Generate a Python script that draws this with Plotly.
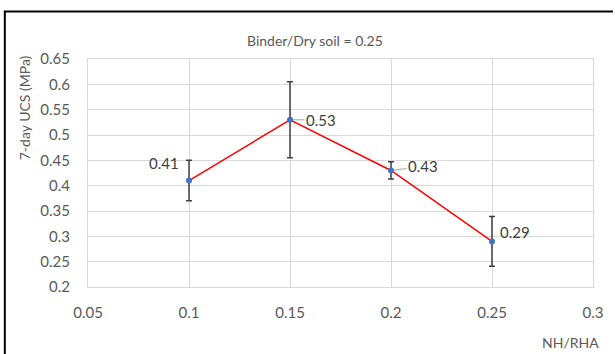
import plotly.graph_objects as go

# Data
nh_rha = [0.10, 0.15, 0.20, 0.25]
ucs_7day = [0.41, 0.53, 0.43, 0.29]
ucs_err = [0.04, 0.075, 0.017, 0.049]
value_labels = ["0.41", "0.53", "0.43", "0.29"]
x_ticks = [0.05, 0.1, 0.15, 0.2, 0.25, 0.3]
x_tick_labels = ["0.05", "0.1", "0.15", "0.2", "0.25", "0.3"]
y_ticks = [0.2, 0.25, 0.3, 0.35, 0.4, 0.45, 0.5, 0.55, 0.6, 0.65]
y_tick_labels = ["0.2", "0.25", "0.3", "0.35", "0.4", "0.45", "0.5", "0.55", "0.6", "0.65"]

W, H = 615, 354
ML, MR, MT, MB = 88, 20, 59, 67
PW, PH = W - ML - MR, H - MT - MB

def px(x):
    return (x - ML) / PW

def py(y):
    return (H - MB - y) / PH

FONT = "Lato"
grid = "#d9d9d9"

fig = go.Figure()
fig.add_trace(go.Scatter(
    x=nh_rha, y=ucs_7day,
    mode="lines+markers",
    line=dict(color="#ff0000", width=1.5),
    marker=dict(color="#4472c4", size=6),
    error_y=dict(type="data", array=ucs_err, visible=True,
                 color="#404040", thickness=1.5, width=3),
    showlegend=False,
    hoverinfo="x+y",
))

# data labels: (ax, ay, arrow)
label_offsets = [(-25, -18, False), (31, 0, True), (32, -4, True), (23, -9, False)]
for xv, yv, txt, (ax, ay, arr) in zip(nh_rha, ucs_7day, value_labels, label_offsets):
    if arr:
        fig.add_annotation(x=xv, y=yv, xref="x", yref="y", text=txt,
                           showarrow=True, arrowhead=0, arrowwidth=1,
                           arrowcolor="#a6a6a6", ax=ax, ay=ay, standoff=3,
                           font=dict(family=FONT, size=15, color="#404040"))
    else:
        fig.add_annotation(x=xv, y=yv, xref="x", yref="y", text=txt,
                           showarrow=False, xshift=ax, yshift=-ay,
                           font=dict(family=FONT, size=15, color="#404040"))

# title
fig.add_annotation(x=px(316), y=py(40), xref="paper", yref="paper",
                   xanchor="center", yanchor="middle",
                   text="Binder/Dry soil = 0.25", showarrow=False,
                   font=dict(family=FONT, size=14, color="#595959"))
# y-axis title
fig.add_annotation(x=px(24), y=py(108), xref="paper", yref="paper",
                   xanchor="center", yanchor="middle",
                   text="7-day UCS (MPa)", showarrow=False, textangle=-90,
                   font=dict(family=FONT, size=14, color="#595959"))
# x-axis title
fig.add_annotation(x=px(572), y=py(342), xref="paper", yref="paper",
                   xanchor="center", yanchor="middle",
                   text="NH/RHA", showarrow=False,
                   font=dict(family=FONT, size=14, color="#595959"))

# outer frame: only left and top edges visible in the image
fig.add_shape(type="line", xref="paper", yref="paper",
              x0=px(4.5), y0=py(11.5), x1=px(4.5), y1=py(354),
              line=dict(color="black", width=2), layer="above")
fig.add_shape(type="line", xref="paper", yref="paper",
              x0=px(3.5), y0=py(11.5), x1=px(615), y1=py(11.5),
              line=dict(color="black", width=2), layer="above")

fig.update_layout(
    width=W, height=H,
    margin=dict(l=ML, r=MR, t=MT, b=MB),
    paper_bgcolor="white", plot_bgcolor="white",
    font=dict(family=FONT, size=15, color="#595959"),
    xaxis=dict(range=[0.05, 0.3], tickvals=x_ticks, ticktext=x_tick_labels,
               showgrid=True, gridcolor=grid, gridwidth=1,
               showline=True, mirror=True, linecolor=grid, linewidth=1,
               zeroline=False, ticks="", ticklabelstandoff=12,
               tickfont=dict(family=FONT, size=15, color="#595959")),
    yaxis=dict(range=[0.2, 0.65], tickvals=y_ticks, ticktext=y_tick_labels,
               showgrid=True, gridcolor=grid, gridwidth=1,
               showline=True, mirror=True, linecolor=grid, linewidth=1,
               zeroline=False, ticks="", ticklabelstandoff=14,
               tickfont=dict(family=FONT, size=15, color="#595959")),
)

fig.write_html(
    "out.html", config={"displayModeBar": False},
    post_script=("document.documentElement.style.overflow='hidden';"
                 "document.body.style.margin='0';"
                 "document.body.style.overflow='hidden';"),
)
